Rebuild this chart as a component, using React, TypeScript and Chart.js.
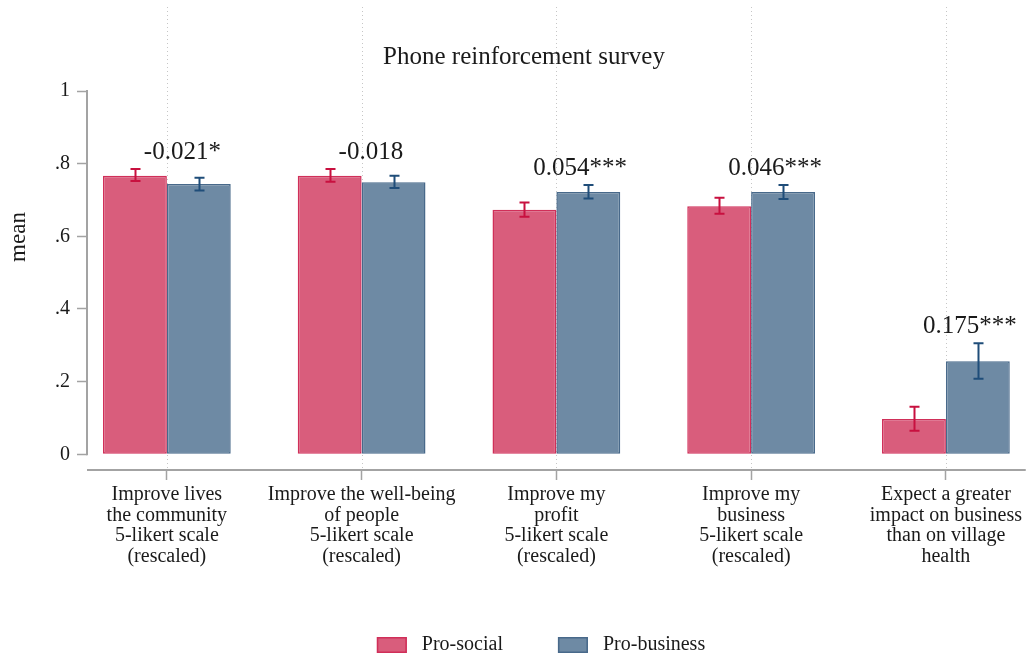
import React, { useEffect, useRef } from "react";
import { Chart, registerables } from "chart.js";

Chart.register(...registerables);

const chartTitle = "Phone reinforcement survey";
const yAxisTitle = "mean";

const categories: string[][] = [
  ["Improve lives", "the community", "5-likert scale", "(rescaled)"],
  ["Improve the well-being", "of people", "5-likert scale", "(rescaled)"],
  ["Improve my", "profit", "5-likert scale", "(rescaled)"],
  ["Improve my", "business", "5-likert scale", "(rescaled)"],
  ["Expect a greater", "impact on business", "than on village", "health"],
];

const seriesNames = ["Pro-social", "Pro-business"];

const proSocial = [0.767, 0.767, 0.673, 0.683, 0.097];
const proSocialLo = [0.752, 0.75, 0.654, 0.662, 0.065];
const proSocialHi = [0.785, 0.785, 0.693, 0.706, 0.131];

const proBusiness = [0.744, 0.749, 0.722, 0.722, 0.256];
const proBusinessLo = [0.726, 0.733, 0.704, 0.703, 0.208];
const proBusinessHi = [0.761, 0.767, 0.741, 0.741, 0.306];

const diffLabels = ["-0.021*", "-0.018", "0.054***", "0.046***", "0.175***"];

const yTicks = [0, 0.2, 0.4, 0.6, 0.8, 1];

const FONT = "'Liberation Serif', 'Times New Roman', serif";
const TEXT = "#1a1a1a";
const AXIS = "#a3a3a3";
const fills = ["rgba(217, 93, 124, 1)", "rgba(110, 138, 164, 1)"];
const borders = ["#d02f59", "#48698a"];
const errColors = ["#c8103f", "#1f4d79"];

const fmtTick = (v: number) => {
  if (Math.abs(v) < 1e-9) return "0";
  if (Math.abs(v - 1) < 1e-9) return "1";
  return v.toFixed(1).replace(/^0/, "");
};

const decorPlugin = {
  id: "decor",
  beforeDatasetsDraw(chart: any) {
    const { ctx, chartArea } = chart;
    const x = chart.scales.x;
    const y = chart.scales.y;
    ctx.save();
    // dotted category lines
    ctx.strokeStyle = "#c6c6c6";
    ctx.lineWidth = 1;
    ctx.setLineDash([1, 3]);
    categories.forEach((_, i) => {
      const px = Math.round(x.getPixelForValue(i + 1)) + 0.5;
      ctx.beginPath();
      ctx.moveTo(px, 7);
      ctx.lineTo(px, chartArea.bottom);
      ctx.stroke();
    });
    ctx.setLineDash([]);
    // axis lines
    ctx.strokeStyle = AXIS;
    ctx.lineWidth = 2;
    ctx.beginPath();
    ctx.moveTo(chartArea.left, y.getPixelForValue(yTicks[yTicks.length - 1]) - 1);
    ctx.lineTo(chartArea.left, y.getPixelForValue(0) + 1);
    ctx.stroke();
    ctx.beginPath();
    ctx.moveTo(chartArea.left, chartArea.bottom);
    ctx.lineTo(chartArea.right, chartArea.bottom);
    ctx.stroke();
    ctx.restore();
  },
  afterDatasetsDraw(chart: any) {
    const { ctx } = chart;
    const x = chart.scales.x;
    const y = chart.scales.y;
    const los = [proSocialLo, proBusinessLo];
    const his = [proSocialHi, proBusinessHi];
    ctx.save();
    [0, 1].forEach((di) => {
      const meta = chart.getDatasetMeta(di);
      ctx.strokeStyle = errColors[di];
      ctx.lineWidth = 2;
      meta.data.forEach((bar: any, i: number) => {
        const cx = Math.round(bar.x) + 0.5;
        const yl = y.getPixelForValue(los[di][i]);
        const yh = y.getPixelForValue(his[di][i]);
        ctx.beginPath();
        ctx.moveTo(cx, yl);
        ctx.lineTo(cx, yh);
        ctx.moveTo(cx - 5, yl);
        ctx.lineTo(cx + 5, yl);
        ctx.moveTo(cx - 5, yh);
        ctx.lineTo(cx + 5, yh);
        ctx.stroke();
      });
    });
    // difference annotations
    ctx.fillStyle = TEXT;
    ctx.font = `25px ${FONT}`;
    ctx.textAlign = "left";
    ctx.textBaseline = "middle";
    diffLabels.forEach((t, i) => {
      const top = Math.max(proSocialHi[i], proBusinessHi[i]);
      ctx.fillText(t, x.getPixelForValue(i + 1) - 23, y.getPixelForValue(top) - 17);
    });
    ctx.restore();
  },
  afterDraw(chart: any) {
    const { ctx } = chart;
    ctx.save();
    // title
    ctx.fillStyle = TEXT;
    ctx.font = `25px ${FONT}`;
    ctx.textAlign = "center";
    ctx.textBaseline = "middle";
    ctx.fillText(chartTitle, 524, 57);
    // y-axis title
    ctx.save();
    ctx.translate(19, 237);
    ctx.rotate(-Math.PI / 2);
    ctx.font = `23px ${FONT}`;
    ctx.fillText(yAxisTitle, 0, 0);
    ctx.restore();
    // legend
    ctx.font = `20px ${FONT}`;
    const boxW = 30;
    const boxH = 16;
    const gapText = 15;
    const gapItem = 55;
    const widths = seriesNames.map((n) => ctx.measureText(n).width);
    const total = widths.reduce((a, w) => a + boxW + gapText + w, 0) + gapItem * (seriesNames.length - 1);
    let lx = 541 - total / 2;
    const ly = 645;
    ctx.textAlign = "left";
    seriesNames.forEach((n, i) => {
      ctx.fillStyle = fills[i];
      ctx.fillRect(lx, ly - boxH / 2, boxW, boxH);
      ctx.strokeStyle = borders[i];
      ctx.lineWidth = 1.5;
      ctx.strokeRect(lx + 0.75, ly - boxH / 2 + 0.75, boxW - 1.5, boxH - 1.5);
      ctx.fillStyle = TEXT;
      ctx.fillText(n, lx + boxW + gapText, ly);
      lx += boxW + gapText + widths[i] + gapItem;
    });
    ctx.restore();
  },
};

export default function App() {
  const ref = useRef<HTMLCanvasElement>(null);

  useEffect(() => {
    if (!ref.current) return;
    const chart = new Chart(ref.current, {
      type: "bar",
      data: {
        datasets: [
          {
            label: seriesNames[0],
            data: proSocial.map((v, i) => ({ x: i + 1, y: v })),
            backgroundColor: fills[0],
            borderColor: borders[0],
            borderWidth: 1.5,
            borderSkipped: false,
          },
          {
            label: seriesNames[1],
            data: proBusiness.map((v, i) => ({ x: i + 1, y: v })),
            backgroundColor: fills[1],
            borderColor: borders[1],
            borderWidth: 1.5,
            borderSkipped: false,
          },
        ],
      },
      options: {
        responsive: false,
        animation: false,
        events: [],
        categoryPercentage: 0.656,
        barPercentage: 1,
        layout: { padding: { top: 91, bottom: 70, left: 0, right: 0 } },
        plugins: {
          legend: { display: false },
          title: { display: false },
          tooltip: { enabled: false },
        },
        scales: {
          x: {
            type: "linear",
            min: 0.59,
            max: 5.41,
            offset: false,
            afterBuildTicks: (s: any) => {
              s.ticks = categories.map((_, i) => ({ value: i + 1 }));
            },
            afterFit: (s: any) => {
              s.height = 120;
            },
            border: { display: false },
            grid: {
              offset: false,
              drawOnChartArea: false,
              drawTicks: true,
              tickLength: 10,
              tickColor: AXIS,
              tickWidth: 1.5,
            },
            ticks: {
              autoSkip: false,
              maxRotation: 0,
              minRotation: 0,
              padding: 5,
              color: TEXT,
              font: { family: FONT, size: 20, lineHeight: 1.02 },
              callback: (v: any) => categories[Math.round(Number(v)) - 1] ?? "",
            },
          },
          y: {
            type: "linear",
            min: -0.0432,
            max: 1,
            afterBuildTicks: (s: any) => {
              s.ticks = yTicks.map((v) => ({ value: v }));
            },
            afterFit: (s: any) => {
              s.width = 87;
            },
            border: { display: false },
            grid: {
              drawOnChartArea: false,
              drawTicks: true,
              tickLength: 10,
              tickColor: AXIS,
              tickWidth: 1.5,
            },
            ticks: {
              padding: 7,
              color: TEXT,
              font: { family: FONT, size: 20 },
              callback: (v: any) => fmtTick(Number(v)),
            },
          },
        },
      },
      plugins: [decorPlugin],
    } as any);
    return () => chart.destroy();
  }, []);

  return (
    <div style={{ position: "fixed", left: 0, top: 0, width: 1027, height: 660, background: "#fff" }}>
      <canvas ref={ref} width={1027} height={660} style={{ display: "block" }} />
    </div>
  );
}
